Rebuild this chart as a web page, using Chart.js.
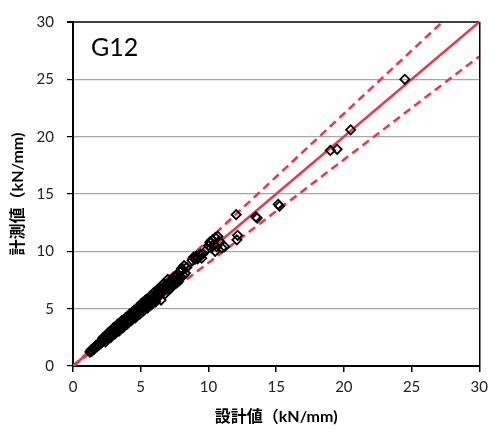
<!DOCTYPE html>
<html>
<head>
<meta charset="utf-8">
<script src="https://cdn.jsdelivr.net/npm/chart.js@4/dist/chart.umd.min.js"></script>
<style>
html,body{margin:0;padding:0;background:#fff;}
#c{display:block;}
</style>
</head>
<body>
<canvas id="c" width="494" height="433"></canvas>
<script>
const designX = [
 1.25,1.32,1.38,1.45,1.55,1.70,1.78,1.85,1.92,2.00,2.05,2.12,2.18,2.25,2.30,2.36,2.42,2.48,2.55,2.60,2.66,2.72,2.78,2.84,2.90,2.95,3.00,
 3.05,3.10,3.15,3.20,3.25,3.30,3.35,3.40,3.45,3.50,3.55,3.60,3.65,3.70,3.75,3.80,3.85,3.90,3.95,4.00,
 4.05,4.10,4.15,4.20,4.25,4.30,4.35,4.40,4.45,4.50,4.55,4.60,4.65,4.70,4.75,4.80,4.85,4.90,4.95,5.00,
 3.4,3.6,3.9,4.2,4.4,4.7,2.5,2.7,3.0,3.2,
 5.05,5.10,5.15,5.20,5.25,5.30,5.40,5.45,5.55,5.60,5.70,5.75,5.85,5.90,6.00,6.05,6.15,6.20,6.30,6.35,6.45,6.50,6.60,6.65,6.75,6.80,6.90,6.95,
 5.2,5.5,5.8,6.1,6.4,6.6,
 7.05,7.10,7.20,7.25,7.35,7.40,7.50,7.55,7.60,7.70,7.75,7.85,7.90,8.00,8.10,8.15,8.30,8.40,
 7.3,7.6,7.8,8.0,
 8.8,8.9,9.0,9.1,9.2,9.4,9.5,9.6,
 9.9,10.0,10.1,10.2,10.3,10.4,10.5,10.6,10.7,10.8,10.5,11.0,11.2,
 12.05,12.1,12.15,13.5,13.6,15.15,15.25,19.0,19.5,20.5,24.5,
 2.2,2.4,2.6,2.8,3.0,3.1,3.3,3.4,3.6,3.7,3.9,4.0,4.2,4.3,4.5,4.6,4.8,4.9,5.1,5.2,5.4,5.5,5.7,5.8,6.0,6.1,6.3,6.5,6.7,6.8,7.0,7.2,8.2
];
const measuredY = [
 1.22,1.38,1.28,1.50,1.45,1.80,1.70,1.92,1.85,2.05,1.95,2.20,2.10,2.30,2.22,2.45,2.35,2.55,2.48,2.68,2.58,2.80,2.70,2.92,2.85,3.05,2.95,
 3.12,3.02,3.25,3.15,3.35,3.22,3.45,3.32,3.55,3.42,3.65,3.52,3.75,3.62,3.85,3.72,3.95,3.82,4.05,3.92,
 4.15,4.02,4.25,4.12,4.35,4.22,4.45,4.32,4.55,4.42,4.68,4.52,4.75,4.60,4.88,4.70,4.95,4.82,5.05,4.90,
 3.6,3.4,4.1,4.0,4.65,4.5,2.7,2.5,3.2,3.0,
 5.20,5.00,5.30,5.05,5.40,5.15,5.55,5.30,5.70,5.45,5.85,5.60,6.00,5.75,6.15,5.95,6.35,6.05,6.50,6.20,6.60,6.35,6.80,6.50,6.95,6.65,7.10,6.80,
 5.5,5.2,6.1,5.8,6.7,6.4,
 7.30,7.00,7.45,7.10,7.60,7.25,7.75,7.35,7.90,7.50,8.00,7.60,8.20,7.75,8.40,7.90,8.10,8.60,
 7.0,7.2,7.4,8.5,
 9.2,9.5,9.3,9.6,9.35,9.75,9.4,9.8,
 10.2,10.5,10.8,10.3,11.0,10.6,11.2,10.4,11.3,10.9,10.0,10.3,10.4,
 13.2,11.0,11.4,13.0,12.9,14.1,13.95,18.8,18.9,20.6,25.0,
 2.45,2.1,2.9,2.5,3.35,2.8,3.65,3.05,3.95,3.35,4.25,3.65,4.55,3.95,4.85,4.2,5.15,4.5,5.5,4.8,5.8,5.05,6.1,5.35,6.45,5.6,6.75,5.75,7.2,6.3,7.55,6.75,8.75
];
// Reference lines: measured = ratio × design
const refRatios = [1.0, 1.1, 0.9];
const tickValues = [0, 5, 10, 15, 20, 25, 30];
const axisMin = 0, axisMax = 30;
const xTitle = '設計値（kN/mm)';
const yTitle = '計測値（kN/mm)';
const panelLabel = 'G12';

const pts = designX.map((x, i) => ({x: x, y: measuredY[i]}));
const RED = '#EE3448';
const refDatasets = refRatios.map(r => ({
  type: 'scatter',
  data: [{x: 0, y: 0}, {x: axisMax, y: axisMax * r}],
  showLine: true,
  borderColor: RED,
  borderWidth: 2.5,
  borderDash: r === 1 ? [] : [8, 5],
  pointRadius: 0,
  fill: false
}));

const labelPlugin = {
  id: 'panelLabel',
  afterDraw(chart) {
    const ctx = chart.ctx;
    const a = chart.chartArea;
    ctx.save();
    ctx.font = '25px Lato, "Noto Sans", sans-serif';
    ctx.fillStyle = '#000';
    ctx.textAlign = 'left';
    ctx.textBaseline = 'alphabetic';
    ctx.fillText(panelLabel, a.left + 18, a.top + 34);
    ctx.restore();
  }
};

const FONT = 'Lato, "Noto Sans CJK JP", sans-serif';
new Chart(document.getElementById('c'), {
  type: 'scatter',
  data: {
    datasets: [{
      data: pts,
      pointStyle: 'rectRot',
      pointRadius: 4.6,
      pointHoverRadius: 4.6,
      borderColor: '#000',
      backgroundColor: 'rgba(255,255,255,0)',
      borderWidth: 1.8
    }].concat(refDatasets)
  },
  options: {
    responsive: false,
    animation: false,
    events: [],
    layout: {padding: {top: 20, right: 13, left: 0, bottom: 0}},
    plugins: {legend: {display: false}, tooltip: {enabled: false}},
    scales: {
      x: {
        type: 'linear', min: axisMin, max: axisMax,
        afterBuildTicks(s) { s.ticks = tickValues.map(v => ({value: v})); },
        afterFit(s) { s.height = 67; },
        ticks: {font: {family: FONT, size: 15}, color: '#222', padding: 6, maxRotation: 0},
        grid: {
          color: ctx => (ctx.tick && ctx.tick.value === axisMax) ? '#000' : 'rgba(0,0,0,0)',
          tickColor: '#000', tickLength: 6, lineWidth: 1.5
        },
        border: {color: '#000', width: 2},
        title: {display: true, text: xTitle, color: '#000', font: {family: FONT, size: 16, weight: 'bold'}, padding: {top: 4, bottom: 7}}
      },
      y: {
        type: 'linear', min: axisMin, max: axisMax,
        afterBuildTicks(s) { s.ticks = tickValues.map(v => ({value: v})); },
        afterFit(s) { s.width = 73; },
        ticks: {font: {family: FONT, size: 15}, color: '#222', padding: 13},
        grid: {
          color: ctx => (ctx.tick && ctx.tick.value === axisMax) ? '#404040' : '#a6a6a6',
          tickColor: '#000', tickLength: 6, lineWidth: ctx => (ctx.tick && ctx.tick.value === axisMax) ? 2 : 1.2
        },
        border: {color: '#000', width: 2},
        title: {display: true, text: yTitle, color: '#000', font: {family: FONT, size: 16, weight: 'bold'}, padding: {top: 8, bottom: 4}}
      }
    }
  },
  plugins: [labelPlugin]
});
</script>
</body>
</html>
